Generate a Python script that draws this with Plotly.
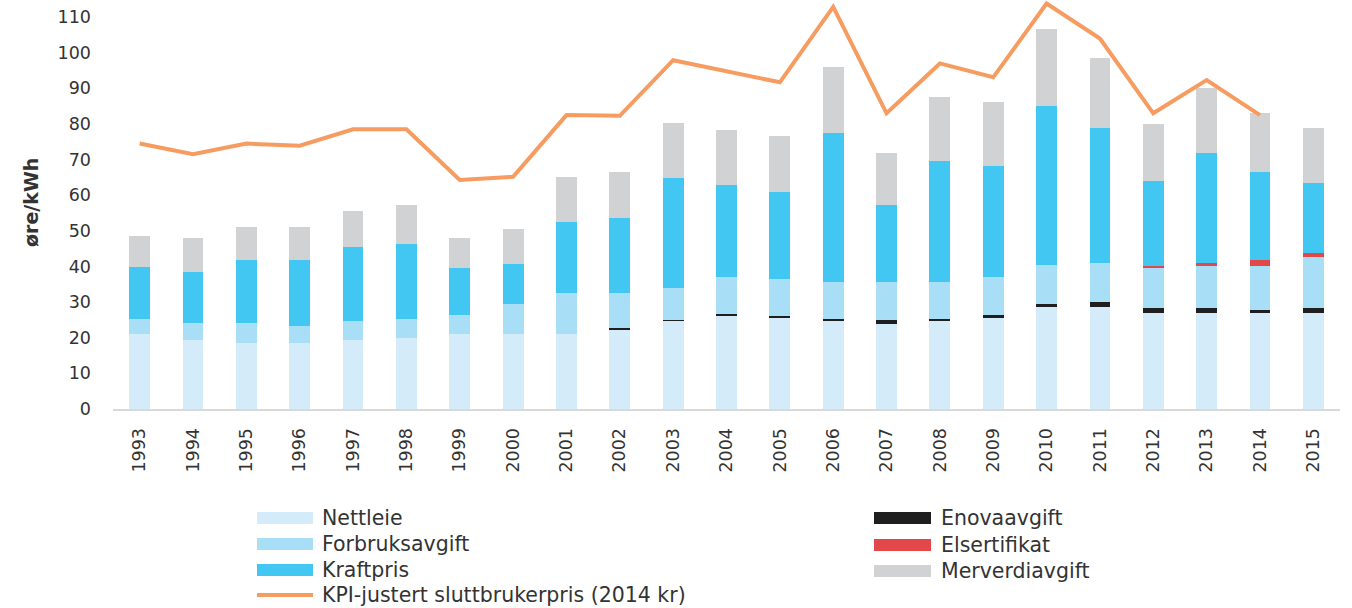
import plotly.graph_objects as go

# --- data (øre/kWh) ---
years = [str(y) for y in range(1993, 2016)]

nettleie = [21.0, 19.4, 18.6, 18.6, 19.4, 19.8, 21.0, 21.0, 21.0, 22.4, 24.8, 26.3,
            25.5, 24.8, 23.9, 24.8, 25.5, 28.5, 28.5, 26.9, 26.9, 27.0, 26.9]
enovaavgift = [0, 0, 0, 0, 0, 0, 0, 0, 0, 0.4, 0.2, 0.5,
               0.6, 0.4, 1.2, 0.4, 0.8, 1.0, 1.5, 1.4, 1.4, 0.8, 1.4]
forbruksavgift = [4.4, 4.6, 5.4, 4.7, 5.3, 5.6, 5.4, 8.5, 11.5, 9.7, 9.0, 10.3,
                  10.3, 10.4, 10.5, 10.4, 10.8, 10.9, 11.1, 11.2, 11.7, 12.3, 14.3]
elsertifikat = [0, 0, 0, 0, 0, 0, 0, 0, 0, 0, 0, 0,
                0, 0, 0, 0, 0, 0, 0, 0.6, 0.9, 1.7, 1.3]
kraftpris = [14.5, 14.5, 17.8, 18.5, 20.8, 20.9, 13.1, 11.2, 19.9, 21.0, 30.7, 25.7,
             24.6, 41.9, 21.6, 34.0, 31.1, 44.6, 37.7, 23.9, 31.0, 24.7, 19.4]
merverdiavgift = [8.6, 9.5, 9.3, 9.3, 10.1, 10.9, 8.5, 9.7, 12.8, 13.1, 15.7, 15.5,
                  15.7, 18.6, 14.6, 18.0, 17.9, 21.8, 19.6, 15.9, 18.1, 16.5, 15.6]
kpi_pris = [74.5, 71.5, 74.5, 73.9, 78.5, 78.5, 64.3, 65.2, 82.5, 82.3, 97.9, 94.9,
            91.7, 112.9, 83.0, 97.0, 93.1, 113.8, 104.0, 83.0, 92.3, 82.5, None]

series_names = ["Nettleie", "Enovaavgift", "Forbruksavgift", "Elsertifikat",
                "Kraftpris", "Merverdiavgift"]
line_name = "KPI-justert sluttbrukerpris (2014 kr)"

colors = {
    "Nettleie": "#d4ecfa",
    "Forbruksavgift": "#a9def7",
    "Kraftpris": "#41c7f2",
    "Enovaavgift": "#1f1f1f",
    "Elsertifikat": "#e2474a",
    "Merverdiavgift": "#d1d2d4",
}
line_color = "#f69c60"
text_color = "#333333"
FONT = "'DejaVu Sans', Verdana, sans-serif"

stack = [nettleie, enovaavgift, forbruksavgift, elsertifikat, kraftpris, merverdiavgift]

fig = go.Figure()
for name, vals in zip(series_names, stack):
    fig.add_trace(go.Bar(
        x=years, y=vals, name=name,
        marker=dict(color=colors[name], line=dict(width=0)),
        showlegend=False,
    ))

fig.add_trace(go.Scatter(
    x=years, y=kpi_pris, name=line_name, mode="lines",
    line=dict(color=line_color, width=4),
    showlegend=False,
))

# page geometry (pixels)
W, H = 1352, 608
ML, MR, MT, MB = 113, 12, 0, 199
PW, PH = W - ML - MR, H - MT - MB


def px_x(x):
    return (x - ML) / PW


def px_y(y):
    return (H - MB - y) / PH


# legend drawn as swatches + labels in two columns
legend_left = [
    ("Nettleie", "bar", 518),
    ("Forbruksavgift", "bar", 544),
    ("Kraftpris", "bar", 570),
    (line_name, "line", 595),
]
legend_right = [
    ("Enovaavgift", "bar", 518),
    ("Elsertifikat", "bar", 545),
    ("Merverdiavgift", "bar", 571),
]

shapes = []
annotations = []
for items, sx0, sx1, tx in [(legend_left, 257, 313, 320), (legend_right, 874, 931, 939)]:
    for label, kind, cy in items:
        if kind == "bar":
            shapes.append(dict(
                type="rect", xref="paper", yref="paper",
                x0=px_x(sx0), x1=px_x(sx1), y0=px_y(cy + 6), y1=px_y(cy - 6),
                fillcolor=colors[label], line=dict(width=0),
            ))
        else:
            shapes.append(dict(
                type="line", xref="paper", yref="paper",
                x0=px_x(sx0), x1=px_x(sx1), y0=px_y(cy), y1=px_y(cy),
                line=dict(color=line_color, width=4),
            ))
        annotations.append(dict(
            text=label, xref="paper", yref="paper",
            x=px_x(tx), y=px_y(cy), xanchor="left", yanchor="middle",
            showarrow=False, font=dict(family=FONT, size=20.5, color=text_color),
        ))

# y-axis title
annotations.append(dict(
    text="<b>øre/kWh</b>", xref="paper", yref="paper",
    x=px_x(31), y=px_y(203), xanchor="center", yanchor="middle",
    textangle=-90, showarrow=False,
    font=dict(family=FONT, size=19, color=text_color),
))

fig.update_layout(
    width=W, height=H,
    margin=dict(l=ML, r=MR, t=MT, b=MB),
    barmode="stack",
    bargap=0.61,
    plot_bgcolor="white",
    paper_bgcolor="white",
    font=dict(family=FONT, size=18, color=text_color),
    shapes=shapes,
    annotations=annotations,
    xaxis=dict(
        type="category",
        tickangle=-90,
        showline=True, linecolor="#d9d9d9", linewidth=2,
        showgrid=False, ticks="",
        ticklabelstandoff=10,
        tickfont=dict(family=FONT, size=17.5, color=text_color),
    ),
    yaxis=dict(
        range=[0, 114.8],
        tickvals=list(range(0, 111, 10)),
        showgrid=False, zeroline=False, showline=False, ticks="",
        ticklabelstandoff=21,
        tickfont=dict(family=FONT, size=17.5, color=text_color),
    ),
)

fig.write_html("out.html")
